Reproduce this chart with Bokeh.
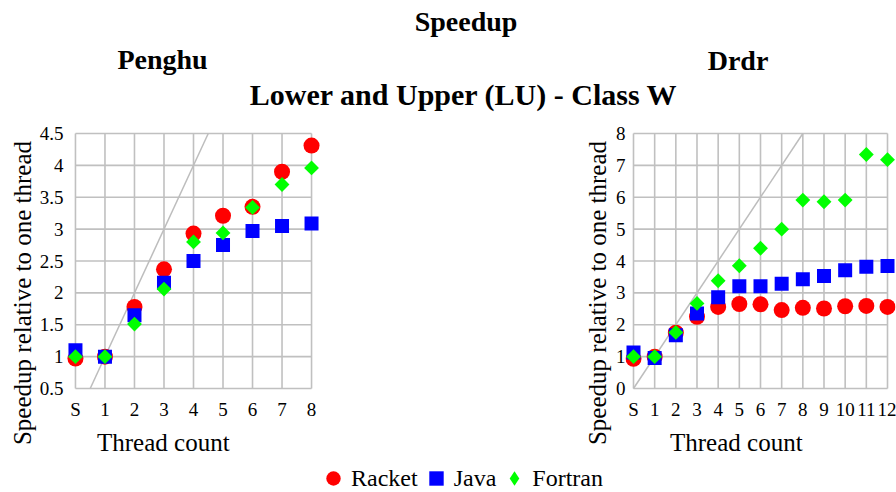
import numpy as np
from bokeh.plotting import figure
from bokeh.layouts import column, row
from bokeh.models import Range1d, FixedTicker, Label, Legend, LegendItem, Title, Div
from bokeh.embed import file_html
from bokeh.resources import INLINE

FONT = "Liberation Serif"

# ---------------- data ----------------
threads_penghu = ["S", "1", "2", "3", "4", "5", "6", "7", "8"]
racket_penghu = [0.97, 1.00, 1.78, 2.37, 2.93, 3.21, 3.35, 3.90, 4.31]
java_penghu = [1.10, 1.00, 1.65, 2.16, 2.50, 2.75, 2.97, 3.05, 3.09]
fortran_penghu = [1.00, 1.00, 1.51, 2.06, 2.80, 2.94, 3.34, 3.70, 3.96]
yticks_penghu = [0.5, 1, 1.5, 2, 2.5, 3, 3.5, 4, 4.5]
ylabels_penghu = ["0.5", "1", "1.5", "2", "2.5", "3", "3.5", "4", "4.5"]

threads_drdr = ["S", "1", "2", "3", "4", "5", "6", "7", "8", "9", "10", "11", "12"]
racket_drdr = [0.93, 1.00, 1.75, 2.25, 2.56, 2.65, 2.64, 2.46, 2.53, 2.51, 2.58, 2.59, 2.56]
java_drdr = [1.13, 0.96, 1.67, 2.35, 2.86, 3.21, 3.21, 3.29, 3.43, 3.53, 3.71, 3.82, 3.84]
fortran_drdr = [1.00, 1.00, 1.76, 2.67, 3.38, 3.85, 4.40, 5.00, 5.91, 5.86, 5.91, 7.34, 7.18]
yticks_drdr = [0, 1, 2, 3, 4, 5, 6, 7, 8]
ylabels_drdr = ["0", "1", "2", "3", "4", "5", "6", "7", "8"]

series_names = ["Racket", "Java", "Fortran"]
RED, BLUE, GREEN = "#ff0000", "#0000ff", "#00ff00"
GRID = "#c0c0c0"
IDEAL = "#bdbdbd"

HEAD_H = 115
PLOT_H = 345
BORDER_TOP = 15
BORDER_BOTTOM = 69
FRAME_H = PLOT_H - BORDER_TOP - BORDER_BOTTOM
PAD_Y = 3
YLABEL_TEXT = "Speedup relative to one thread"
XLABEL_TEXT = "Thread count"


def make_panel(cats, racket, java, fortran, yticks, ylabels, width,
               border_left, border_right, pad_l, pad_r, ystandoff, xtitle_offset):
    n = len(cats)
    xs = list(range(n))
    grid_w = width - border_left - border_right - pad_l - pad_r
    ppu_x = grid_w / (n - 1)
    y0, y1 = yticks[0], yticks[-1]
    ppu_y = (FRAME_H - 2 * PAD_Y) / (y1 - y0)
    p = figure(width=width, height=PLOT_H, output_backend="svg", toolbar_location=None,
               x_range=Range1d(-pad_l / ppu_x, (n - 1) + pad_r / ppu_x),
               y_range=Range1d(y0 - PAD_Y / ppu_y, y1 + PAD_Y / ppu_y),
               min_border_left=border_left, min_border_right=border_right,
               min_border_top=BORDER_TOP, min_border_bottom=BORDER_BOTTOM)
    p.outline_line_color = None
    p.grid.visible = False
    p.background_fill_color = "white"
    p.border_fill_color = "white"

    # grid from the tick positions
    p.segment(x0=xs, y0=[y0] * n, x1=xs, y1=[y1] * n,
              line_color=GRID, line_width=1.6, level="underlay")
    p.segment(x0=[0] * len(yticks), y0=yticks, x1=[n - 1] * len(yticks), y1=yticks,
              line_color=GRID, line_width=1.6, level="underlay")

    # ideal (linear) speedup line, within the axis limits
    lo, hi = max(0, y0), min(n - 1, y1)
    p.line([lo, hi], [lo, hi], line_color=IDEAL, line_width=1.5)

    p.scatter(xs, racket, marker="circle", size=16, fill_color=RED, line_color=None)
    p.scatter(xs, java, marker="square", size=14, fill_color=BLUE, line_color=None)
    p.scatter(xs, fortran, marker="square", angle=np.pi / 4, size=10.5,
              fill_color=GREEN, line_color=None)

    p.xaxis.ticker = FixedTicker(ticks=xs)
    p.xaxis.major_label_overrides = {i: c for i, c in enumerate(cats)}
    p.yaxis.ticker = FixedTicker(ticks=yticks)
    p.yaxis.major_label_overrides = dict(zip(yticks, ylabels))
    for ax in (p.xaxis[0], p.yaxis[0]):
        ax.axis_line_color = None
        ax.major_tick_line_color = None
        ax.minor_tick_line_color = None
        ax.major_tick_out = 0
        ax.major_tick_in = 0
        ax.major_label_text_font = FONT
        ax.major_label_text_font_size = "19px"
        ax.major_label_text_color = "black"
    p.xaxis.major_label_standoff = 7
    p.yaxis.major_label_standoff = ystandoff

    p.add_layout(Title(text=XLABEL_TEXT, align="left", offset=xtitle_offset,
                       standoff=8, text_font=FONT, text_font_size="25px",
                       text_font_style="normal", text_color="black"), "below")
    return p


def make_ylabel(width, cx, cy):
    html = ('<div style="position:relative;width:%dpx;height:%dpx;">'
            '<div style="position:absolute;left:%.1fpx;top:%.1fpx;'
            'transform:translate(-50%%,-50%%) rotate(-90deg);white-space:nowrap;'
            "font-family:'Liberation Serif';font-size:25px;line-height:1;color:#000;\">"
            '%s</div></div>') % (width, PLOT_H, cx, cy, YLABEL_TEXT)
    return Div(text=html, width=width, height=PLOT_H, margin=0,
               styles={"overflow": "visible"})


ylab_left = make_ylabel(36, 21.5, 293 - HEAD_H)
left = make_panel(threads_penghu, racket_penghu, java_penghu, fortran_penghu,
                  yticks_penghu, ylabels_penghu, width=549, border_left=28, border_right=264,
                  pad_l=10, pad_r=10, ystandoff=2, xtitle_offset=31.5)
ylab_right = make_ylabel(27, 11.5, 293 - HEAD_H)
right = make_panel(threads_drdr, racket_drdr, java_drdr, fortran_drdr,
                   yticks_drdr, ylabels_drdr, width=284, border_left=13, border_right=1,
                   pad_l=8, pad_r=8, ystandoff=0, xtitle_offset=44.5)

# ---------------- header ----------------
header = figure(width=896, height=HEAD_H, output_backend="svg", toolbar_location=None,
                x_range=Range1d(0, 1), y_range=Range1d(0, 1), min_border=0,
                x_axis_location=None, y_axis_location=None)
header.grid.visible = False
header.outline_line_color = None
for txt, cx, base, fs in [("Speedup", 465.5, 21, "28px"), ("Penghu", 162, 59, "28px"),
                          ("Drdr", 737.5, 60, "28px"),
                          ("Lower and Upper (LU) - Class W", 463.5, 93.5, "30px")]:
    header.add_layout(Label(x=cx, y=HEAD_H - base, x_units="screen", y_units="screen",
                            text=txt, text_font=FONT, text_font_size=fs,
                            text_font_style="bold", text_align="center",
                            text_baseline="alphabetic", text_color="black"))

# ---------------- footer legend ----------------
FOOT_H = 492 - HEAD_H - PLOT_H
xs_p = list(range(len(threads_penghu)))
footer = figure(width=896, height=FOOT_H, output_backend="svg", toolbar_location=None,
                x_range=Range1d(0, 1), y_range=Range1d(-2, -1), min_border=0,
                x_axis_location=None, y_axis_location=None)
footer.grid.visible = False
footer.outline_line_color = None
# legend keys carry the series (kept outside the footer's visible range)
r1 = footer.scatter(xs_p, racket_penghu, marker="circle", fill_color=RED, line_color=None)
r2 = footer.scatter(xs_p, java_penghu, marker="square", fill_color=BLUE, line_color=None)
r3 = footer.scatter(xs_p, fortran_penghu, marker="diamond", fill_color=GREEN, line_color=None)
legend = Legend(items=[LegendItem(label=series_names[0], renderers=[r1]),
                       LegendItem(label=series_names[1], renderers=[r2]),
                       LegendItem(label=series_names[2], renderers=[r3])],
                orientation="horizontal", location=(315, -4),
                glyph_width=36, glyph_height=36, label_standoff=0, spacing=0,
                padding=0, margin=0, border_line_color=None, background_fill_alpha=0,
                label_text_font=FONT, label_text_font_size="24px",
                label_text_baseline="middle", label_text_color="black")
footer.add_layout(legend)

layout = column(header, row(ylab_left, left, ylab_right, right), footer)
open("out.html", "w").write(file_html(layout, INLINE))
